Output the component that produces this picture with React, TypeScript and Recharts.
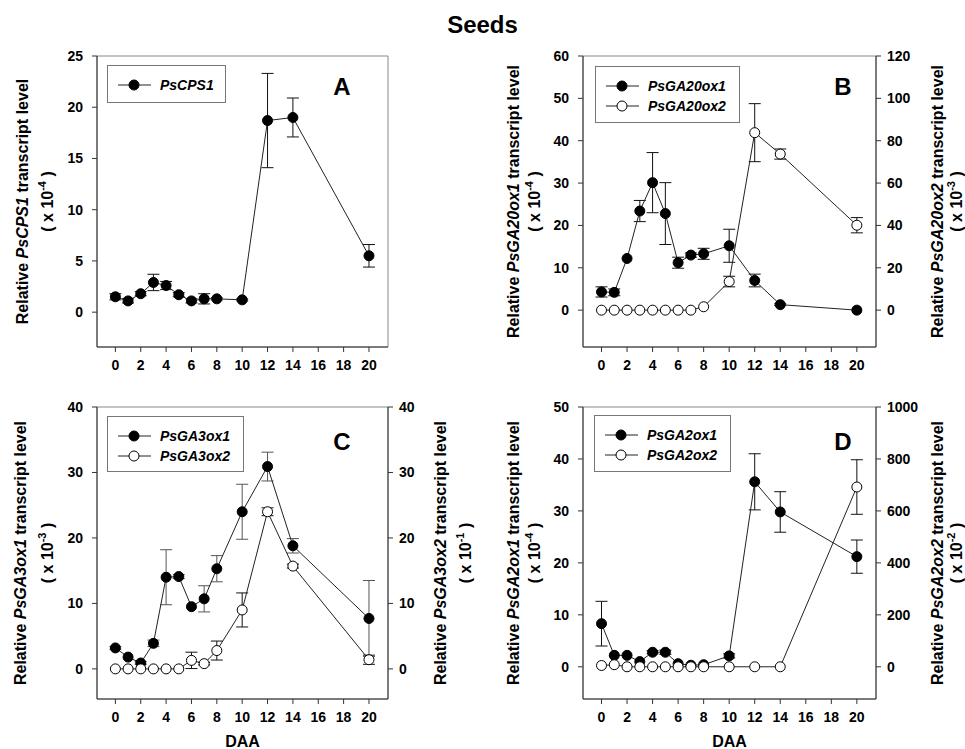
import React from 'react';
import { ComposedChart, Line, ErrorBar, XAxis, YAxis, ReferenceArea, Legend } from 'recharts';

const daa = [0, 1, 2, 3, 4, 5, 6, 7, 8, 10, 12, 14, 20];
const xTicks = [0, 2, 4, 6, 8, 10, 12, 14, 16, 18, 20];

const cps1 = [1.5, 1.1, 1.8, 2.9, 2.6, 1.7, 1.1, 1.3, 1.3, 1.2, 18.7, 19.0, 5.5];
const cps1Err = [0.3, 0.2, 0.2, 0.8, 0.4, 0.2, 0.2, 0.5, 0.1, 0.1, 4.6, 1.9, 1.1];

const ga20ox1 = [4.3, 4.2, 12.2, 23.4, 30.1, 22.8, 11.2, 13.0, 13.3, 15.2, 7.0, 1.3, 0];
const ga20ox1Err = [1.2, 0.8, 0, 2.5, 7.1, 7.3, 1.3, 0.5, 1.3, 3.9, 1.5, 0.2, 0];
const ga20ox2 = [0, 0, 0, 0, 0, 0, 0, 0, 1.6, 13.5, 83.8, 73.7, 40.1];
const ga20ox2Err = [0, 0, 0, 0, 0, 0, 0, 0, 0, 2.5, 13.7, 2.4, 3.6];

const ga3ox1 = [3.2, 1.8, 0.9, 3.9, 14.0, 14.1, 9.5, 10.7, 15.3, 24.0, 30.9, 18.8, 7.7];
const ga3ox1Err = [0.2, 0, 0.2, 0.5, 4.2, 0.3, 0, 2.0, 2.0, 4.2, 2.2, 1.1, 5.8];
const ga3ox2 = [0, 0, 0, 0, 0, 0, 1.3, 0.8, 2.8, 9.0, 24.0, 15.7, 1.4];
const ga3ox2Err = [0, 0, 0, 0, 0, 0, 1.25, 0.2, 1.45, 2.6, 0.6, 0.3, 0.7];

const ga2ox1 = [8.3, 2.2, 2.2, 1.0, 2.8, 2.8, 0.6, 0.3, 0.4, 2.1, 35.6, 29.8, 21.2];
const ga2ox1Err = [4.3, 0, 0, 0, 0.3, 0.4, 0, 0, 0, 0.4, 5.4, 3.9, 3.2];
const ga2ox2 = [5, 8, 0, 0, 0, 0, 0, 0, 0, 0, 0, 0, 692];
const ga2ox2Err = [0, 0, 0, 0, 0, 0, 0, 0, 0, 0, 0, 0, 105];

const FONT = '"Liberation Sans", Arial, sans-serif';
const tickStyle = { fontSize: 14, fontWeight: 'bold' as const, fill: '#000', fontFamily: FONT };

type Series = { name: string; values: number[]; errors: number[]; filled: boolean; axis: 'left' | 'right' };

function YTitle(props: any) {
  const { viewBox, gene, exp, side, o1, o2 } = props;
  const cy = viewBox.y + viewBox.height / 2;
  const edge = side === 'left' ? viewBox.x + viewBox.width : viewBox.x;
  const x1 = side === 'left' ? edge - o1 : edge + o1;
  const x2 = side === 'left' ? edge - o2 : edge + o2;
  const common = { textAnchor: 'middle' as const, dominantBaseline: 'central' as const, fontSize: 16, fontWeight: 'bold' as const, fontFamily: FONT, fill: '#000' };
  return (
    <g>
      <text transform={`translate(${x1},${cy}) rotate(-90)`} {...common}>
        <tspan>Relative </tspan>
        <tspan fontStyle="italic">{gene}</tspan>
        <tspan> transcript level</tspan>
      </text>
      <text transform={`translate(${x2},${cy}) rotate(-90)`} {...common}>
        <tspan>( x 10</tspan>
        <tspan dy={-5} fontSize={11}>{exp}</tspan>
        <tspan dy={5}> )</tspan>
      </text>
    </g>
  );
}

function LegendBox({ series, w, h }: { series: Series[]; w: number; h: number }) {
  return (
    <div style={{ width: w, height: h, boxSizing: 'border-box', border: '1px solid #777', background: '#fff', paddingTop: 9, fontFamily: FONT }}>
      {series.map((s) => (
        <div key={s.name} style={{ height: 20, display: 'flex', alignItems: 'center' }}>
          <svg width={52} height={14} style={{ display: 'block' }}>
            <line x1={10} x2={43} y1={7} y2={7} stroke="#222" strokeWidth={1} />
            <circle cx={26} cy={7} r={5} fill={s.filled ? '#000' : '#fff'} stroke="#000" strokeWidth={1} />
          </svg>
          <span style={{ fontSize: 14, fontWeight: 'bold', fontStyle: 'italic', color: '#000' }}>{s.name}</span>
        </div>
      ))}
    </div>
  );
}

type PanelProps = {
  left: number; top: number; width: number; height: number;
  margin: { top: number; right: number; bottom: number; left: number };
  yDomain: [number, number]; yTicks: number[];
  rDomain?: [number, number]; rTicks?: number[];
  series: Series[];
  leftGene: string; leftExp: string; lo1: number; lo2: number;
  rightGene?: string; rightExp?: string; ro1?: number; ro2?: number;
  xHeight: number; showDAA: boolean;
  legend: { left: number; top: number; width: number; height: number };
  letter: string; letterX: number; letterY: number;
};

function Panel(p: PanelProps) {
  const xDomain: [number, number] = [-1.45, 21.5];
  const data = daa.map((d, i) => {
    const row: any = { daa: d };
    p.series.forEach((s, k) => {
      row['v' + k] = s.values[i];
      row['e' + k] = s.errors[i];
    });
    return row;
  });
  return (
    <div style={{ position: 'absolute', left: p.left, top: p.top, width: p.width, height: p.height }}>
      <ComposedChart width={p.width} height={p.height} data={data} margin={p.margin}>
        <XAxis
          dataKey="daa" type="number" domain={xDomain} ticks={xTicks} allowDataOverflow
          height={p.xHeight} tickSize={5} tickMargin={8} tick={tickStyle}
          axisLine={{ stroke: '#333' }} tickLine={{ stroke: '#333' }}
          label={p.showDAA ? { value: 'DAA', position: 'insideBottom', offset: 2, style: { fontSize: 16, fontWeight: 'bold', fill: '#000', fontFamily: FONT } } : undefined}
        />
        <YAxis
          yAxisId="left" type="number" domain={p.yDomain} ticks={p.yTicks} allowDataOverflow
          width={40} tickSize={5} tickMargin={9} tick={tickStyle}
          axisLine={{ stroke: '#333' }} tickLine={{ stroke: '#333' }}
          label={<YTitle gene={p.leftGene} exp={p.leftExp} side="left" o1={p.lo1} o2={p.lo2} />}
        />
        {p.rDomain && (
          <YAxis
            yAxisId="right" orientation="right" type="number" domain={p.rDomain} ticks={p.rTicks} allowDataOverflow
            width={40} tickSize={5} tickMargin={6} tick={tickStyle}
            axisLine={{ stroke: '#333' }} tickLine={{ stroke: '#333' }}
            label={<YTitle gene={p.rightGene} exp={p.rightExp} side="right" o1={p.ro1} o2={p.ro2} />}
          />
        )}
        <ReferenceArea yAxisId="left" x1={xDomain[0]} x2={xDomain[1]} y1={p.yDomain[0]} y2={p.yDomain[1]} fill="none" stroke="#888" strokeWidth={1} />
        <Legend
          layout="vertical" align="center" verticalAlign="middle"
          wrapperStyle={{ left: p.legend.left, top: p.legend.top, width: p.legend.width, height: p.legend.height }}
          content={() => <LegendBox series={p.series} w={p.legend.width} h={p.legend.height} />}
        />
        {p.series.map((s, k) => (
          <Line
            key={s.name} name={s.name} yAxisId={s.axis} dataKey={'v' + k} type="linear"
            stroke="#222" strokeWidth={1}
            dot={{ r: 5, fill: s.filled ? '#000' : '#fff', stroke: '#000', strokeWidth: 1 }}
            activeDot={false} isAnimationActive={false}
          >
            <ErrorBar dataKey={'e' + k} direction="y" width={6} stroke={s.filled && p.letter === 'C' ? '#555' : '#111'} strokeWidth={1} />
          </Line>
        ))}
      </ComposedChart>
      <div style={{ position: 'absolute', left: p.letterX - 20, top: p.letterY - 15, width: 40, textAlign: 'center', fontFamily: FONT, fontWeight: 'bold', fontSize: 24, lineHeight: '30px', color: '#000' }}>
        {p.letter}
      </div>
    </div>
  );
}

export default function App() {
  return (
    <div style={{ position: 'absolute', left: 0, top: 0, width: 965, height: 749, background: '#fff', overflow: 'hidden' }}>
      <div style={{ position: 'absolute', left: 0, top: 10, width: 965, textAlign: 'center', fontFamily: FONT, fontWeight: 'bold', fontSize: 24, lineHeight: '30px', color: '#000' }}>
        Seeds
      </div>
      <Panel
        left={0} top={0} width={480} height={400}
        margin={{ top: 56, right: 92, bottom: 23, left: 57 }}
        yDomain={[-3.4, 25]} yTicks={[0, 5, 10, 15, 20, 25]}
        series={[{ name: 'PsCPS1', values: cps1, errors: cps1Err, filled: true, axis: 'left' }]}
        leftGene="PsCPS1" leftExp="-4" lo1={75} lo2={50}
        xHeight={30} showDAA={false}
        legend={{ left: 107, top: 65, width: 119, height: 38 }}
        letter="A" letterX={342} letterY={87}
      />
      <Panel
        left={480} top={0} width={485} height={400}
        margin={{ top: 56, right: 49, bottom: 23, left: 63 }}
        yDomain={[-8.7, 60]} yTicks={[0, 10, 20, 30, 40, 50, 60]}
        rDomain={[-17.4, 120]} rTicks={[0, 20, 40, 60, 80, 100, 120]}
        series={[
          { name: 'PsGA20ox1', values: ga20ox1, errors: ga20ox1Err, filled: true, axis: 'left' },
          { name: 'PsGA20ox2', values: ga20ox2, errors: ga20ox2Err, filled: false, axis: 'right' },
        ]}
        leftGene="PsGA20ox1" leftExp="-4" lo1={70} lo2={49}
        rightGene="PsGA20ox2" rightExp="-3" ro1={61} ro2={80}
        xHeight={30} showDAA={false}
        legend={{ left: 115, top: 66, width: 145, height: 57 }}
        letter="B" letterX={363} letterY={87}
      />
      <Panel
        left={0} top={370} width={480} height={379}
        margin={{ top: 37, right: 52, bottom: 0, left: 57 }}
        yDomain={[-4.6, 40]} yTicks={[0, 10, 20, 30, 40]}
        rDomain={[-4.6, 40]} rTicks={[0, 10, 20, 30, 40]}
        series={[
          { name: 'PsGA3ox1', values: ga3ox1, errors: ga3ox1Err, filled: true, axis: 'left' },
          { name: 'PsGA3ox2', values: ga3ox2, errors: ga3ox2Err, filled: false, axis: 'right' },
        ]}
        leftGene="PsGA3ox1" leftExp="-3" lo1={77} lo2={50}
        rightGene="PsGA3ox2" rightExp="-1" ro1={52} ro2={77}
        xHeight={50} showDAA={true}
        legend={{ left: 107, top: 46, width: 137, height: 56 }}
        letter="C" letterX={342} letterY={72}
      />
      <Panel
        left={480} top={370} width={485} height={379}
        margin={{ top: 37, right: 49, bottom: 0, left: 63 }}
        yDomain={[-6.2, 50]} yTicks={[0, 10, 20, 30, 40, 50]}
        rDomain={[-124, 1000]} rTicks={[0, 200, 400, 600, 800, 1000]}
        series={[
          { name: 'PsGA2ox1', values: ga2ox1, errors: ga2ox1Err, filled: true, axis: 'left' },
          { name: 'PsGA2ox2', values: ga2ox2, errors: ga2ox2Err, filled: false, axis: 'right' },
        ]}
        leftGene="PsGA2ox1" leftExp="-4" lo1={70} lo2={49}
        rightGene="PsGA2ox2" rightExp="-2" ro1={61} ro2={80}
        xHeight={50} showDAA={true}
        legend={{ left: 114, top: 45, width: 137, height: 57 }}
        letter="D" letterX={363} letterY={72}
      />
    </div>
  );
}
